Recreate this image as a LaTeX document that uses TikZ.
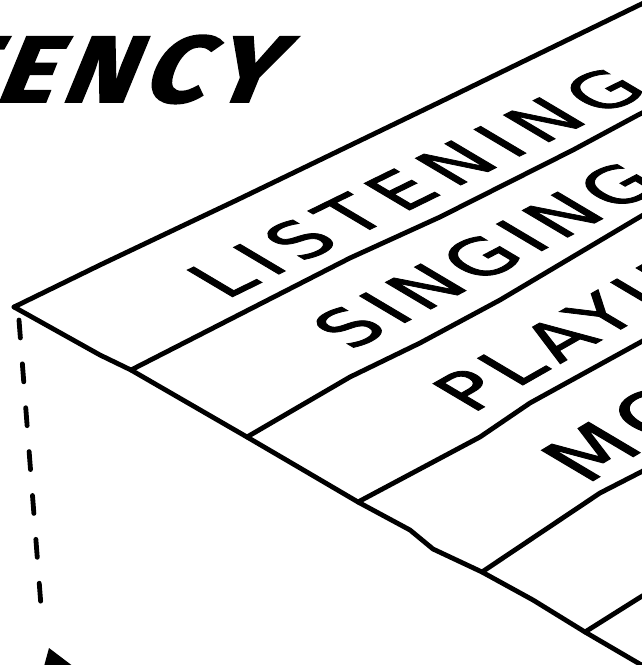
\documentclass[tikz,border=0pt]{standalone}
\usepackage{fontspec}
\setmainfont{DejaVu Sans}
\IfFontExistsTF{Fira Sans Heavy Italic}
  {\newfontfamily\titlefont{Fira Sans Heavy Italic}[LetterSpace=9]}
  {\newfontfamily\titlefont{Fira Sans Bold Italic}[FakeBold=2,LetterSpace=9]}
\newfontfamily\handfont{DejaVu Sans}[LetterSpace=11,FakeBold=1.5]
\begin{document}
\begin{tikzpicture}[x=1pt,y=-1pt,
  edge/.style={line width=4.8pt, line join=round, line cap=round},
  dashedge/.style={line width=4.8pt, line cap=round, dash pattern=on 18pt off 26pt},
  word/.style={font=\handfont\fontsize{72}{72}\selectfont, inner sep=0pt, anchor=base west, transform shape},
  titletext/.style={font=\titlefont\fontsize{94}{94}\selectfont, inner sep=0pt, anchor=base west, transform shape}]
\useasboundingbox (0,0) rectangle (642,665);
\clip (0,0) rectangle (642,665);
% corner points
\coordinate (c0) at (14,307);
\coordinate (f1) at (131,370);
\coordinate (f2) at (247,437);
\coordinate (f3) at (358,502);
\coordinate (f4) at (482,572);
\coordinate (f5) at (585,632);
\coordinate (fe) at (662,677);
\coordinate (te) at (662,-6);
\coordinate (e1) at (662,103);
\coordinate (e2) at (662,204);
\coordinate (e3) at (662,330);
\coordinate (e4) at (662,461);
\coordinate (e5) at (662,584);
% top edge
\draw[edge] (c0) -- (100,265) -- (180,227) -- (237,200) -- (440,102) -- (520,63) -- (te);
% front edge
\draw[edge] (c0) -- (100,355) -- (f1) -- (f2) -- (300,468) -- (f3) -- (410,530) -- (433,549) -- (f4) -- (533,600) -- (f5) -- (fe);
% strip dividers
\draw[edge] (f1) -- (350,258) -- (440,217) -- (573,150) -- (638,115) -- (e1);
\draw[edge] (f2) -- (350,377) -- (420,343) -- (500,300) -- (638,218) -- (e2);
\draw[edge] (f3) -- (480,437) -- (530,403) -- (639,343) -- (e3);
\draw[edge] (f4) -- (600,493) -- (639,473) -- (e4);
\draw[edge] (f5) -- (639,598) -- (e5);
% dashed vertical edge and arrow tip
\coordinate (d0) at (19,320);
\coordinate (d1) at (41,606);
\draw[dashedge] (d0) -- (d1);
\fill (49,648) -- (43,670) -- (78,670) -- cycle;
% title
\begin{scope}[shift={(-70,102)}, xslant=0.25, xscale=1.15]
\node[titletext] (title) at (0,0) {TENCY};
\end{scope}
% strip labels
\begin{scope}[shift={(226,300)}, cm={0.898,0.44,-0.86,0.51,(0,0)}]
\node[word, font=\handfont\addfontfeature{LetterSpace=16}\fontsize{72}{72}\selectfont] (listening) at (0,0) {LISTENING};
\end{scope}
\begin{scope}[shift={(351,351)}, cm={0.885,0.465,-0.86,0.51,(0,0)}]
\node[word] (singing) at (0,0) {SINGING};
\end{scope}
\begin{scope}[shift={(472,414)}, cm={0.869,0.495,-0.86,0.51,(0,0)}]
\node[word] (playing) at (0,0) {PLAYIN};
\end{scope}
\begin{scope}[shift={(586,485)}, cm={0.857,0.514,-0.86,0.51,(0,0)}]
\node[word, font=\handfont\fontsize{82}{82}\selectfont] (moving) at (0,0) {MO};
\end{scope}
\end{tikzpicture}
\end{document}
